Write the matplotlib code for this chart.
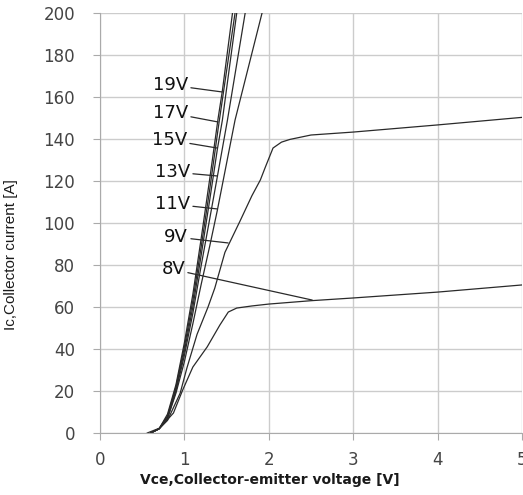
import matplotlib
matplotlib.use("Agg")
import matplotlib.pyplot as plt

# Vce [V], Ic [A] for each gate voltage
vce_19 = [0.60, 0.70, 0.80, 0.90, 1.00, 1.10, 1.20, 1.30, 1.40, 1.45, 1.57]
ic_19 = [0, 2, 9, 23, 43, 66, 93, 121, 150, 163, 200]
vce_17 = [0.60, 0.70, 0.80, 0.90, 1.00, 1.10, 1.20, 1.30, 1.40, 1.60]
ic_17 = [0, 2, 8, 22, 41, 63, 89, 116, 145, 200]
vce_15 = [0.60, 0.70, 0.80, 0.90, 1.00, 1.10, 1.20, 1.30, 1.39, 1.45, 1.62]
ic_15 = [0, 2, 8, 21, 39, 60, 85, 111, 135, 149, 200]
vce_13 = [0.60, 0.70, 0.80, 0.90, 1.00, 1.10, 1.20, 1.30, 1.39, 1.51, 1.72]
ic_13 = [0, 2, 7, 20, 37, 57, 80, 102, 122, 149, 200]
vce_11 = [0.60, 0.70, 0.80, 0.90, 1.00, 1.10, 1.20, 1.30, 1.39, 1.60, 1.92]
ic_11 = [0, 2, 7, 19, 34, 52, 71, 89, 106, 149, 200]
vce_9 = [0.60, 0.70, 0.80, 0.95, 1.03, 1.15, 1.28, 1.36, 1.48, 1.66, 1.80,
         1.90, 1.96, 2.05, 2.15, 2.25, 2.50, 3.00, 4.00, 5.00]
ic_9 = [0, 2, 6, 19, 31, 47, 60, 69, 86, 101, 113,
        120.5, 126.7, 135.7, 138.5, 139.8, 141.9, 143.3, 146.7, 150.3]
vce_8 = [0.56, 0.71, 0.87, 0.98, 1.10, 1.27, 1.42, 1.52, 1.62, 1.80, 2.00,
         2.50, 3.00, 4.00, 5.00]
ic_8 = [0, 2.4, 9.5, 20.5, 31.4, 41, 51.4, 57.6, 59.5, 60.5, 61.4,
        63.0, 64.3, 67.1, 70.5]

curves = [(vce_19, ic_19), (vce_17, ic_17), (vce_15, ic_15), (vce_13, ic_13),
          (vce_11, ic_11), (vce_9, ic_9), (vce_8, ic_8)]

# curve labels: text anchor and where the leader line touches the curve
label_text = ["19V", "17V", "15V", "13V", "11V", "9V", "8V"]
label_xy = [(1.044, 165.7), (1.044, 152.4), (1.032, 139.5), (1.068, 124.3),
            (1.068, 109.0), (1.044, 93.3), (1.008, 77.9)]
leader_end = [(1.447, 162.4), (1.400, 148.1), (1.388, 135.7), (1.388, 122.4),
              (1.388, 106.7), (1.518, 90.5), (2.515, 63.3)]

x_ticks = [0, 1, 2, 3, 4, 5]
y_ticks = [0, 20, 40, 60, 80, 100, 120, 140, 160, 180, 200]

fig = plt.figure(figsize=(5.23, 4.95), dpi=100)
ax = fig.add_axes([100 / 523, 62 / 495, 422 / 523, 420 / 495])

for vce, ic in curves:
    ax.plot(vce, ic, color="#2a2a2a", lw=0.9, solid_joinstyle="round")

for txt, (tx, ty), (ex, ey) in zip(label_text, label_xy, leader_end):
    ax.annotate(txt, xy=(ex, ey), xytext=(tx, ty), ha="right", va="center",
                fontsize=13, color="#111111",
                arrowprops=dict(arrowstyle="-", color="#2a2a2a", lw=0.9,
                                shrinkA=0, shrinkB=0))

ax.set_xlim(0, 5)
ax.set_ylim(0, 200)
ax.set_xticks(x_ticks)
ax.set_yticks(y_ticks)
ax.grid(True, color="#cccccc", lw=1.0)
ax.set_axisbelow(True)
for side in ["top", "right"]:
    ax.spines[side].set_visible(False)
for side in ["left", "bottom"]:
    ax.spines[side].set_color("#aaaaaa")
ax.tick_params(axis="both", colors="#aaaaaa", labelcolor="#444444",
               labelsize=12, length=5)
ax.tick_params(axis="y", pad=13)
ax.tick_params(axis="x", pad=8)

ax.set_xlabel("Vce,Collector-emitter voltage [V]", fontsize=10,
              fontweight="bold", color="#1a1a1a")
ax.xaxis.set_label_coords(0.403, -0.095)
ax.set_ylabel("Ic,Collector current [A]", fontsize=11, color="#1a1a1a",
              family="Liberation Sans")
ax.yaxis.set_label_coords(-0.195, 0.426)

fig.savefig("out.png", dpi=100)
